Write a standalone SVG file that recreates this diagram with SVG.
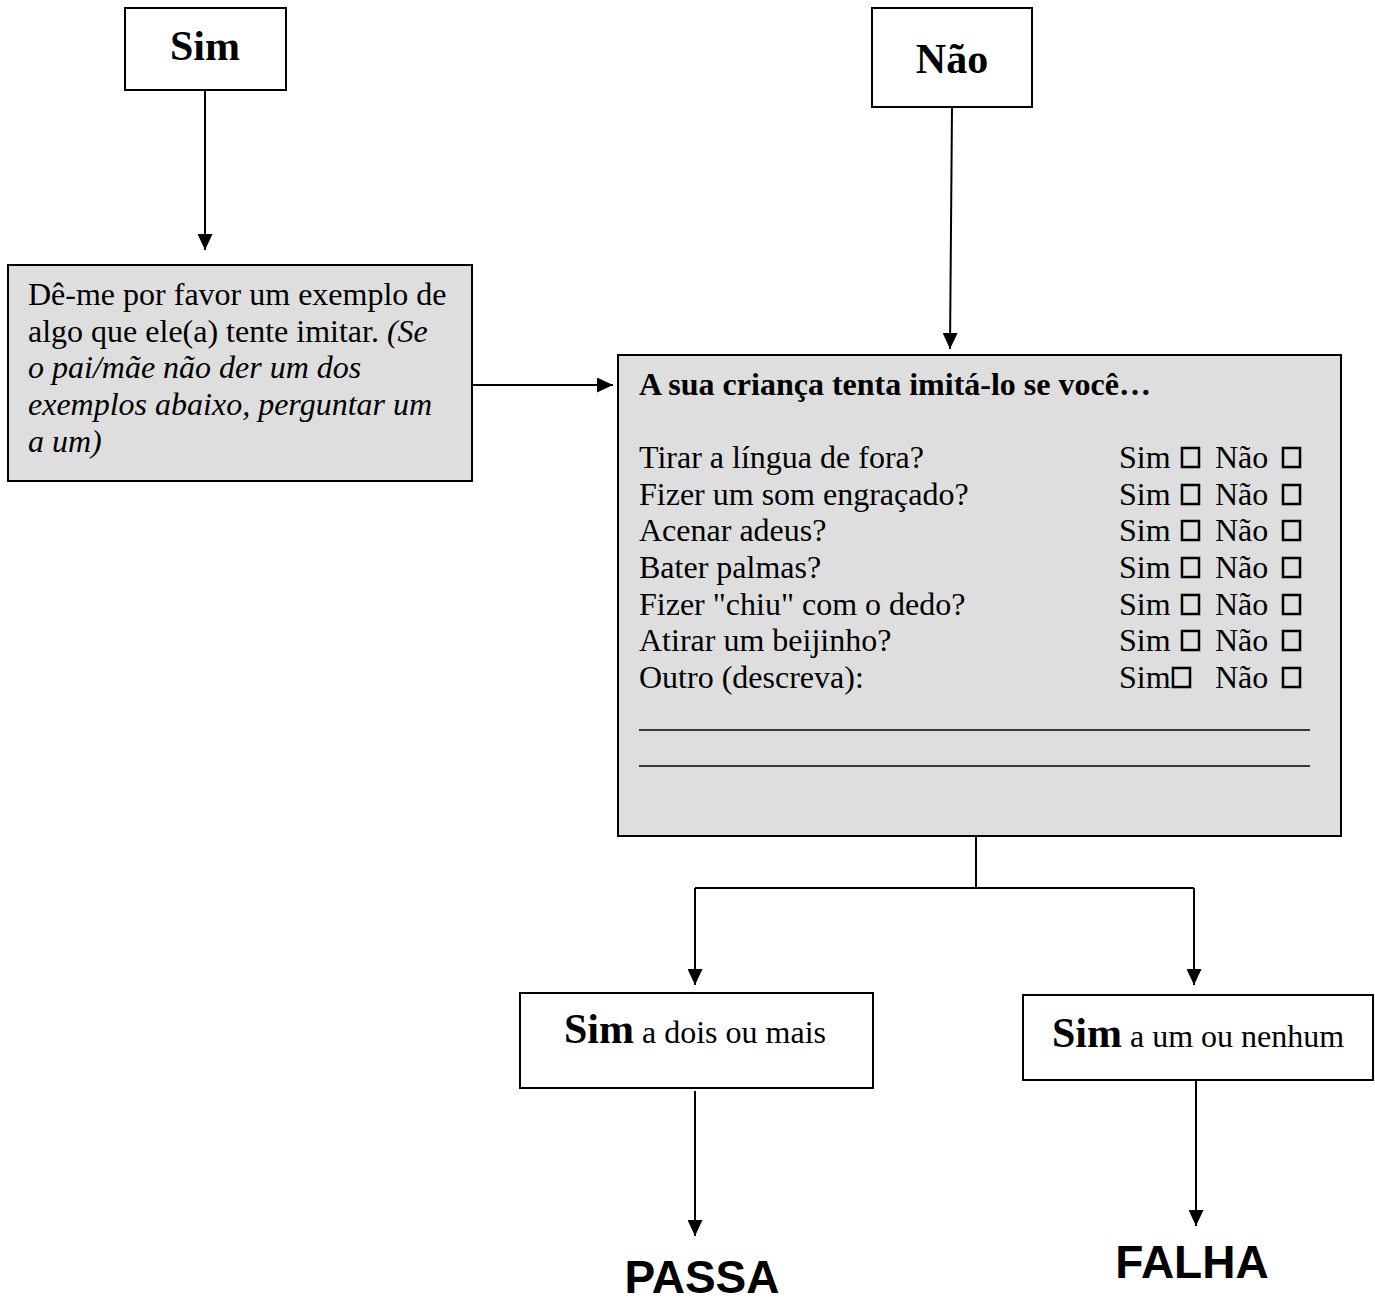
<svg xmlns="http://www.w3.org/2000/svg" width="1375" height="1301" viewBox="0 0 1375 1301">
<style>
.box{fill:#ffffff;stroke:#000;stroke-width:2}
.grey{fill:#dedede;stroke:#000;stroke-width:2}
.t{font-family:"Liberation Serif","Times New Roman",serif;font-size:32px;fill:#000}
.h{font-family:"Liberation Serif","Times New Roman",serif;font-size:42px;font-weight:bold;fill:#000}
.b{font-weight:bold}
.i{font-style:italic}
.big{font-family:"Liberation Sans",Arial,sans-serif;font-size:46px;font-weight:bold;fill:#000}
.cb{fill:none;stroke:#000;stroke-width:2.5}
.conn{fill:none;stroke:#000;stroke-width:2}
.ul{stroke:#000;stroke-width:1.5}
</style>
<defs>
<marker id="ah" markerUnits="userSpaceOnUse" markerWidth="16" markerHeight="15" refX="16" refY="7.5" orient="auto">
<path d="M0,0 L16,7.5 L0,15 z" fill="#000"/>
</marker>
</defs>

<g id="node-sim">
<rect class="box" x="125" y="8" width="161" height="82"/>
<text class="h" x="205" y="60" text-anchor="middle">Sim</text>
</g>

<g id="node-nao">
<rect class="box" x="872" y="8" width="160" height="99"/>
<text class="h" x="952" y="73" text-anchor="middle">Não</text>
</g>

<g id="node-exemplo">
<rect class="grey" x="8" y="265" width="464" height="216"/>
<text class="t" x="28" y="305">Dê-me por favor um exemplo de</text>
<text class="t" x="28" y="342">algo que ele(a) tente imitar. <tspan class="i">(Se</tspan></text>
<text class="t i" x="28" y="378">o pai/mãe não der um dos</text>
<text class="t i" x="28" y="415">exemplos abaixo, perguntar um</text>
<text class="t i" x="28" y="452">a um)</text>
</g>

<g id="node-pergunta">
<rect class="grey" x="618" y="355" width="723" height="481"/>
<text class="t b" x="639" y="395">A sua criança tenta imitá-lo se você…</text>
<g>
<text class="t" x="639" y="468">Tirar a língua de fora?</text>
<text class="t" x="639" y="505">Fizer um som engraçado?</text>
<text class="t" x="639" y="541">Acenar adeus?</text>
<text class="t" x="639" y="578">Bater palmas?</text>
<text class="t" x="639" y="615">Fizer "chiu" com o dedo?</text>
<text class="t" x="639" y="651">Atirar um beijinho?</text>
<text class="t" x="639" y="688">Outro (descreva):</text>
</g>
<g>
<text class="t" x="1119" y="468">Sim</text><text class="t" x="1215" y="468">Não</text>
<text class="t" x="1119" y="505">Sim</text><text class="t" x="1215" y="505">Não</text>
<text class="t" x="1119" y="541">Sim</text><text class="t" x="1215" y="541">Não</text>
<text class="t" x="1119" y="578">Sim</text><text class="t" x="1215" y="578">Não</text>
<text class="t" x="1119" y="615">Sim</text><text class="t" x="1215" y="615">Não</text>
<text class="t" x="1119" y="651">Sim</text><text class="t" x="1215" y="651">Não</text>
<text class="t" x="1119" y="688">Sim</text><text class="t" x="1215" y="688">Não</text>
</g>
<g>
<rect class="cb" x="1182" y="448" width="17" height="19"/><rect class="cb" x="1283" y="448" width="17" height="19"/>
<rect class="cb" x="1182" y="485" width="17" height="19"/><rect class="cb" x="1283" y="485" width="17" height="19"/>
<rect class="cb" x="1182" y="521" width="17" height="19"/><rect class="cb" x="1283" y="521" width="17" height="19"/>
<rect class="cb" x="1182" y="558" width="17" height="19"/><rect class="cb" x="1283" y="558" width="17" height="19"/>
<rect class="cb" x="1182" y="595" width="17" height="19"/><rect class="cb" x="1283" y="595" width="17" height="19"/>
<rect class="cb" x="1182" y="631" width="17" height="19"/><rect class="cb" x="1283" y="631" width="17" height="19"/>
<rect class="cb" x="1173" y="668" width="17" height="19"/><rect class="cb" x="1283" y="668" width="17" height="19"/>
</g>
<line class="ul" x1="639" y1="730" x2="1310" y2="730"/>
<line class="ul" x1="639" y1="766" x2="1310" y2="766"/>
</g>

<g id="node-dois">
<rect class="box" x="520" y="993" width="353" height="95"/>
<text class="t" x="564" y="1043"><tspan class="h">Sim</tspan> a dois ou mais</text>
</g>

<g id="node-um">
<rect class="box" x="1023" y="995" width="350" height="85"/>
<text class="t" x="1052" y="1047"><tspan class="h">Sim</tspan> a um ou nenhum</text>
</g>

<g id="node-passa">
<text class="big" x="702" y="1293" text-anchor="middle">PASSA</text>
</g>

<g id="node-falha">
<text class="big" x="1192" y="1278" text-anchor="middle">FALHA</text>
</g>

<g id="connectors">
<line class="conn" x1="205" y1="90" x2="205" y2="250" marker-end="url(#ah)"/>
<line class="conn" x1="952" y1="107" x2="950" y2="349" marker-end="url(#ah)"/>
<line class="conn" x1="472" y1="385" x2="613" y2="385" marker-end="url(#ah)"/>
<polyline class="conn" points="976,836 976,888"/>
<polyline class="conn" points="695,888 1194,888"/>
<line class="conn" x1="695" y1="888" x2="695" y2="985" marker-end="url(#ah)"/>
<line class="conn" x1="1194" y1="888" x2="1194" y2="985" marker-end="url(#ah)"/>
<line class="conn" x1="695" y1="1091" x2="695" y2="1236" marker-end="url(#ah)"/>
<line class="conn" x1="1196" y1="1081" x2="1196" y2="1226" marker-end="url(#ah)"/>
</g>
</svg>
